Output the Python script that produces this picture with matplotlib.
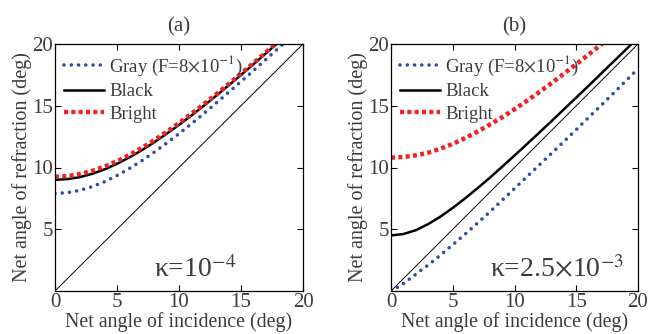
import numpy as np
import matplotlib
matplotlib.use('Agg')
import matplotlib.pyplot as plt

plt.rcParams['font.family'] = ['Liberation Serif', 'DejaVu Serif']
plt.rcParams['mathtext.fontset'] = 'stix'

# values (angles in deg)
x_a = [0, 1, 2, 3, 4, 5, 6, 7, 8, 9, 10, 11, 12, 13, 14, 15, 16, 17, 18, 19, 20]
gray_a = [7.9, 7.96, 8.15, 8.45, 8.85, 9.35, 9.92, 10.55, 11.24, 11.97, 12.74, 13.54, 14.37, 15.22, 16.09, 16.96, 17.84, 18.74, 19.65, 20.55, 21.5]
black_a = [9.0, 9.06, 9.22, 9.49, 9.85, 10.3, 10.82, 11.4, 12.04, 12.73, 13.45, 14.21, 15.0, 15.81, 16.64, 17.49, 18.36, 19.24, 20.12, 21.02, 21.93]
bright_a = [9.25, 9.3, 9.46, 9.73, 10.07, 10.51, 11.02, 11.59, 12.21, 12.89, 13.6, 14.35, 15.13, 15.93, 16.76, 17.6, 18.45, 19.32, 20.2, 21.1, 22.0]

x_b = [0, 1, 2, 3, 4, 5, 6, 7, 8, 9, 10, 11, 12, 13, 14, 15, 16, 17, 18, 19, 20]
gray_b = [0.0, 0.6, 1.35, 2.1, 2.9, 3.75, 4.6, 5.5, 6.4, 7.35, 8.3, 9.25, 10.2, 11.15, 12.1, 13.07, 14.05, 15.02, 16.0, 17.0, 18.0]
black_b = [4.5, 4.61, 4.92, 5.41, 6.02, 6.73, 7.5, 8.32, 9.17, 10.06, 10.97, 11.89, 12.82, 13.76, 14.71, 15.66, 16.62, 17.59, 18.56, 19.53, 20.5]
bright_b = [10.8, 10.85, 10.98, 11.2, 11.52, 11.91, 12.38, 12.9, 13.48, 14.07, 14.72, 15.4, 16.1, 16.84, 17.6, 18.36, 19.15, 19.95, 20.75, 21.57, 22.4]

gray_label = r'Gray (F=8$\times$10$^{-1}$)'
panels = ['(a)', '(b)']
kappas = [u'\u03ba=10$^{-4}$', u'\u03ba=2.5$\\times$10$^{-3}$']

txt = '#3c3c3c'
blue = '#3050a8'
red = '#ee2222'

fig = plt.figure(figsize=(6.5, 3.34), dpi=100)
ax1 = fig.add_axes([55/650, 43/334, 248/650, 247/334])
ax2 = fig.add_axes([391/650, 43/334, 247/650, 247/334])

data = [(x_a, gray_a, black_a, bright_a), (x_b, gray_b, black_b, bright_b)]

for ax, d, title, kap in zip([ax1, ax2], data, panels, kappas):
    x, g, b, r = d
    ax.plot([0, 20], [0, 20], color='black', lw=0.7)
    ax.plot(x, g, color=blue, lw=2.6, linestyle=(0, (0.01, 2.0)),
            dash_capstyle='round', label=gray_label)
    ax.plot(x, b, color='black', lw=1.8, label='Black')
    ax.plot(x, r, color=red, lw=3.2, linestyle=(0, (0.9, 0.75)),
            dash_capstyle='butt', label='Bright')
    ax.set_xlim(0, 20)
    ax.set_ylim(0, 20)
    ax.set_xticks([0, 5, 10, 15, 20])
    ax.set_yticks([5, 10, 15, 20])
    ax.tick_params(direction='in', top=True, right=True, labelsize=15,
                   colors='black', labelcolor=txt, length=4, pad=1.5)
    for s in ax.spines.values():
        s.set_linewidth(0.9)
    ax.set_xlabel('Net angle of incidence (deg)', fontsize=14.3, color=txt, labelpad=0)
    ax.set_ylabel('Net angle of refraction (deg)', fontsize=14.5, color=txt, labelpad=0)
    ax.set_title(title, fontsize=15, color=txt, pad=9)
    ax.legend(loc='upper left', frameon=False, fontsize=13.5, handlelength=2.1,
              handletextpad=0.3, labelspacing=0.3, borderaxespad=0.2,
              borderpad=0.3, labelcolor=txt)
    ax.text(0.40, 0.055, kap, transform=ax.transAxes, ha='left', va='baseline',
            fontsize=20, color=txt)

fig.savefig('out.png', dpi=100)
